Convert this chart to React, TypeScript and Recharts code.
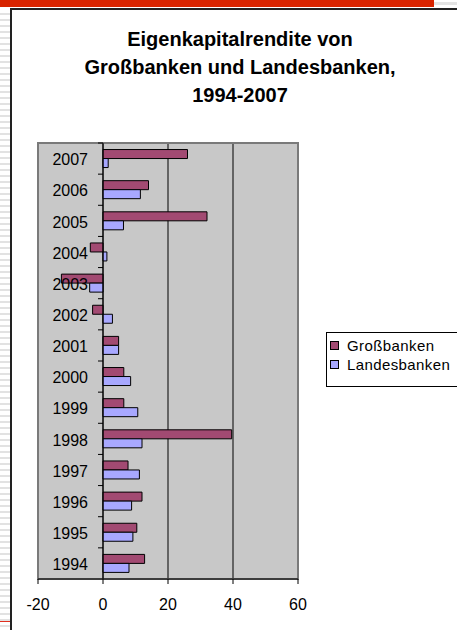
import {
  BarChart,
  Bar,
  XAxis,
  YAxis,
  CartesianGrid,
  ReferenceLine,
  ReferenceArea,
} from "recharts";

const YEARS = ["1994", "1995", "1996", "1997", "1998", "1999", "2000", "2001", "2002", "2003", "2004", "2005", "2006", "2007"];
const GROSSBANKEN = [12.8, 10.4, 12, 7.7, 39.6, 6.4, 6.4, 4.8, -3.2, -12.8, -3.9, 32, 14, 26];
const LANDESBANKEN = [8, 9.2, 8.8, 11.2, 12, 10.7, 8.5, 4.8, 2.9, -4.1, 1.2, 6.3, 11.5, 1.6];
const X_TICKS = [-20, 0, 20, 40, 60];
const SERIES = [
  { key: "gross", name: "Großbanken", color: "#A24A72" },
  { key: "landes", name: "Landesbanken", color: "#A8A8FF" },
];
const TITLE = ["Eigenkapitalrendite von", "Großbanken und Landesbanken,", "1994-2007"];

// top row in the picture is 2007
const data = YEARS.map((year, i) => ({
  year,
  gross: GROSSBANKEN[i],
  landes: LANDESBANKEN[i],
})).reverse();

const W = 457;
const H = 630;
const PLOT_LEFT = 38;
const PLOT_RIGHT = 298;
const PLOT_TOP = 143;
const PLOT_BOTTOM = 579;
const X_AXIS_H = 40;
const Y_AXIS_W = 1;
const X_MIN = X_TICKS[0];
const X_MAX = X_TICKS[X_TICKS.length - 1];
const ZERO_X = PLOT_LEFT + ((PLOT_RIGHT - PLOT_LEFT) * (0 - X_MIN)) / (X_MAX - X_MIN);
const BAND = (PLOT_BOTTOM - PLOT_TOP) / YEARS.length;
const FONT = "'Liberation Sans', Arial, sans-serif";

function YearTick(props: any) {
  const { y, payload } = props;
  return (
    <g>
      <text
        x={ZERO_X - 15}
        y={y}
        dy="0.42em"
        textAnchor="end"
        fontSize={16}
        fontFamily={FONT}
        fill="#000"
      >
        {payload.value}
      </text>
      <line x1={ZERO_X - 5} x2={ZERO_X} y1={y - BAND / 2} y2={y - BAND / 2} stroke="#000" />
    </g>
  );
}

export default function App() {
  return (
    <div
      style={{
        position: "fixed",
        left: 0,
        top: 0,
        width: W,
        height: H,
        background: "#fff",
        overflow: "hidden",
        fontFamily: FONT,
      }}
    >
      {/* ruled strip on the left */}
      <div
        style={{
          position: "absolute",
          left: 0,
          top: 9,
          width: 10,
          height: H - 9,
          background:
            "repeating-linear-gradient(to bottom, #fff 0px, #fff 4px, #e2e2e2 4px, #e2e2e2 6px)",
        }}
      />
      <div style={{ position: "absolute", left: 0, top: 621, width: 10, height: 1, background: "#e03020" }} />
      <div style={{ position: "absolute", left: 0, top: 0, width: 434, height: 7, background: "#D82400" }} />
      <div style={{ position: "absolute", left: 434, top: 2, width: 23, height: 3, background: "#e4e4e4" }} />
      <div style={{ position: "absolute", left: 10, top: 8, width: W, height: 2, background: "#222" }} />
      <div style={{ position: "absolute", left: 10, top: 8, width: 1.5, height: H, background: "#222" }} />

      <div
        style={{
          position: "absolute",
          left: 11,
          top: 25,
          width: 458,
          textAlign: "center",
          fontWeight: "bold",
          fontSize: 20,
          lineHeight: "28px",
          color: "#000",
        }}
      >
        {TITLE.map((t) => (
          <div key={t}>{t}</div>
        ))}
      </div>

      <div style={{ position: "absolute", left: 0, top: 0 }}>
        <BarChart
          width={W}
          height={H}
          data={data}
          layout="vertical"
          margin={{
            left: PLOT_LEFT - Y_AXIS_W,
            right: W - PLOT_RIGHT,
            top: PLOT_TOP,
            bottom: H - PLOT_BOTTOM - X_AXIS_H,
          }}
          barCategoryGap="21%"
          barGap={0}
        >
          <CartesianGrid horizontal={false} stroke="#000" fill="#C8C8C8" fillOpacity={1} />
          <ReferenceArea x1={X_MIN} x2={X_MAX} fill="none" stroke="#7a7a7a" strokeWidth={2} ifOverflow="visible" />
          <XAxis
            type="number"
            domain={[X_MIN, X_MAX]}
            ticks={X_TICKS}
            interval={0}
            height={X_AXIS_H}
            axisLine={{ stroke: "#000" }}
            tickLine={{ stroke: "#000" }}
            tickSize={5}
            tickMargin={15}
            tick={{ fill: "#000", fontSize: 16, fontFamily: FONT }}
          />
          <YAxis
            type="category"
            dataKey="year"
            width={Y_AXIS_W}
            interval={0}
            axisLine={false}
            tickLine={false}
            tick={(p: any) => <YearTick {...p} />}
          />
          <ReferenceLine x={0} stroke="#000" />
          {SERIES.map((s) => (
            <Bar
              key={s.key}
              dataKey={s.key}
              name={s.name}
              fill={s.color}
              stroke="#000"
              strokeWidth={1}
              isAnimationActive={false}
            />
          ))}
        </BarChart>
      </div>

      <div
        style={{
          position: "absolute",
          left: 326,
          top: 332,
          width: 140,
          height: 55,
          border: "1px solid #000",
          background: "#fff",
          boxSizing: "border-box",
          paddingTop: 3,
        }}
      >
        {SERIES.map((s) => (
          <div
            key={s.key}
            style={{
              display: "flex",
              alignItems: "center",
              height: 19,
              fontSize: 15,
              letterSpacing: "0.4px",
              color: "#000",
            }}
          >
            <span
              style={{
                display: "inline-block",
                width: 7,
                height: 7,
                marginLeft: 3,
                marginRight: 8,
                background: s.color,
                border: "1px solid #000",
              }}
            />
            {s.name}
          </div>
        ))}
      </div>
    </div>
  );
}
